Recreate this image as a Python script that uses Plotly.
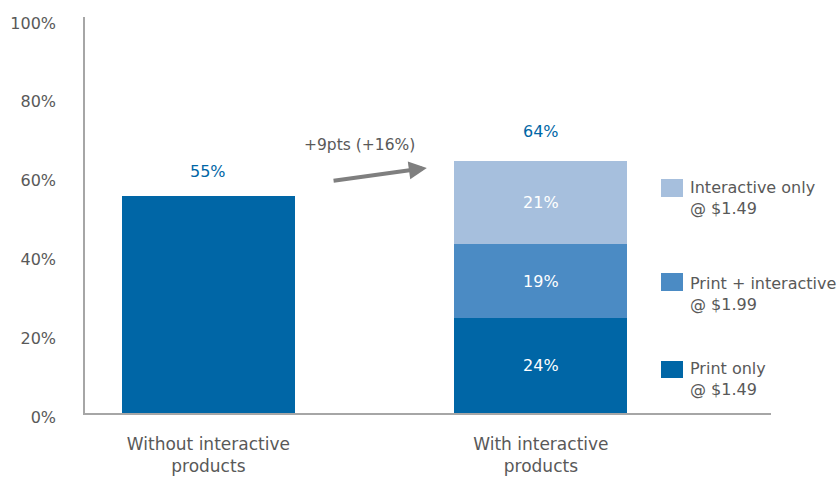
import plotly.graph_objects as go

# Share of respondents by offer scenario
categories = ["Without interactive<br>products", "With interactive<br>products"]
print_only = [55, 24]
print_interactive = [None, 19]
interactive_only = [None, 21]

series_names = ["Print only", "Print + interactive", "Interactive only"]
series_prices = ["@ $1.49", "@ $1.99", "@ $1.49"]
series_colors = ["#0066A6", "#4B8BC4", "#A6BFDD"]
series_values = [print_only, print_interactive, interactive_only]

y_ticks = [0, 20, 40, 60, 80, 100]
change_label = "+9pts (+16%)"

GREY = "#595959"
FONT = "DejaVu Sans"

fig = go.Figure()
for i, (name, vals, col) in enumerate(zip(series_names, series_values, series_colors)):
    if i == 0:
        text = ["" if k == 0 else f"{v}%" for k, v in enumerate(vals)]
    else:
        text = ["" if v is None else f"{v}%" for v in vals]
    fig.add_trace(go.Bar(
        x=categories, y=vals, name=name, marker=dict(color=col, line=dict(width=0)),
        width=0.52, text=text, textposition="inside", insidetextanchor="middle",
        textfont=dict(color="white", size=16, family=FONT),
        showlegend=False, hoverinfo="skip",
    ))

# totals above each bar
totals = [sum(v[k] or 0 for v in series_values) for k in range(len(categories))]
for k, tot in enumerate(totals):
    fig.add_annotation(x=categories[k], y=tot, text=f"{tot}%", showarrow=False,
                       yanchor="bottom", yshift=13 if k == 0 else 18,
                       font=dict(color="#0066A6", size=16, family=FONT))

# change arrow between the two bars
fig.add_annotation(x=0.657, y=62.2, ax=0.372, ay=58.9, xref="x", yref="y",
                   axref="x", ayref="y", text="", showarrow=True,
                   arrowhead=2, arrowsize=0.9, arrowwidth=4, arrowcolor="#7F7F7F")
fig.add_annotation(x=0.453, y=68.0, xref="x", yref="y", text=change_label,
                   showarrow=False, font=dict(color=GREY, size=15.5, family=FONT))

# manual legend on the right
L, R, T, B = 85, 771, 17, 413
def px(xp):
    return (xp - L) / (R - L)
def py(yp):
    return (B - yp) / (B - T)

legend_rows = [  # (square top, square bottom, text centre) in pixels, top to bottom
    (179, 197, 198),
    (273, 291, 294),
    (361, 378, 379),
]
for (top, bot, mid), idx in zip(legend_rows, [2, 1, 0]):
    fig.add_shape(type="rect", xref="paper", yref="paper",
                  x0=px(661), x1=px(683), y0=py(bot), y1=py(top),
                  fillcolor=series_colors[idx], line=dict(width=0))
    fig.add_annotation(xref="paper", yref="paper", x=px(688), y=py(mid),
                       xanchor="left", yanchor="middle", align="left",
                       text=f"{series_names[idx]}<br>{series_prices[idx]}",
                       showarrow=False, font=dict(color=GREY, size=16, family=FONT))

fig.update_layout(
    barmode="stack",
    width=840, height=477,
    margin=dict(l=L, r=840 - R, t=T, b=477 - B, autoexpand=False),
    paper_bgcolor="white", plot_bgcolor="white",
    showlegend=False,
    font=dict(family=FONT, color=GREY),
    xaxis=dict(range=[-0.371, 1.692], showline=True, linecolor="#A6A6A6", linewidth=1.5,
               showgrid=False, ticks="", tickfont=dict(size=17, color=GREY, family=FONT),
               ticklabelstandoff=15, fixedrange=True, automargin=False),
    yaxis=dict(range=[0, 100.5], tickvals=y_ticks, ticktext=[f"{t}%" for t in y_ticks],
               showline=True, linecolor="#A6A6A6", linewidth=1.5, showgrid=False,
               zeroline=False, ticks="", tickfont=dict(size=16, color=GREY, family=FONT),
               ticklabelstandoff=24, ticklabelshift=4, fixedrange=True, automargin=False),
)

fig.write_html("out.html")
